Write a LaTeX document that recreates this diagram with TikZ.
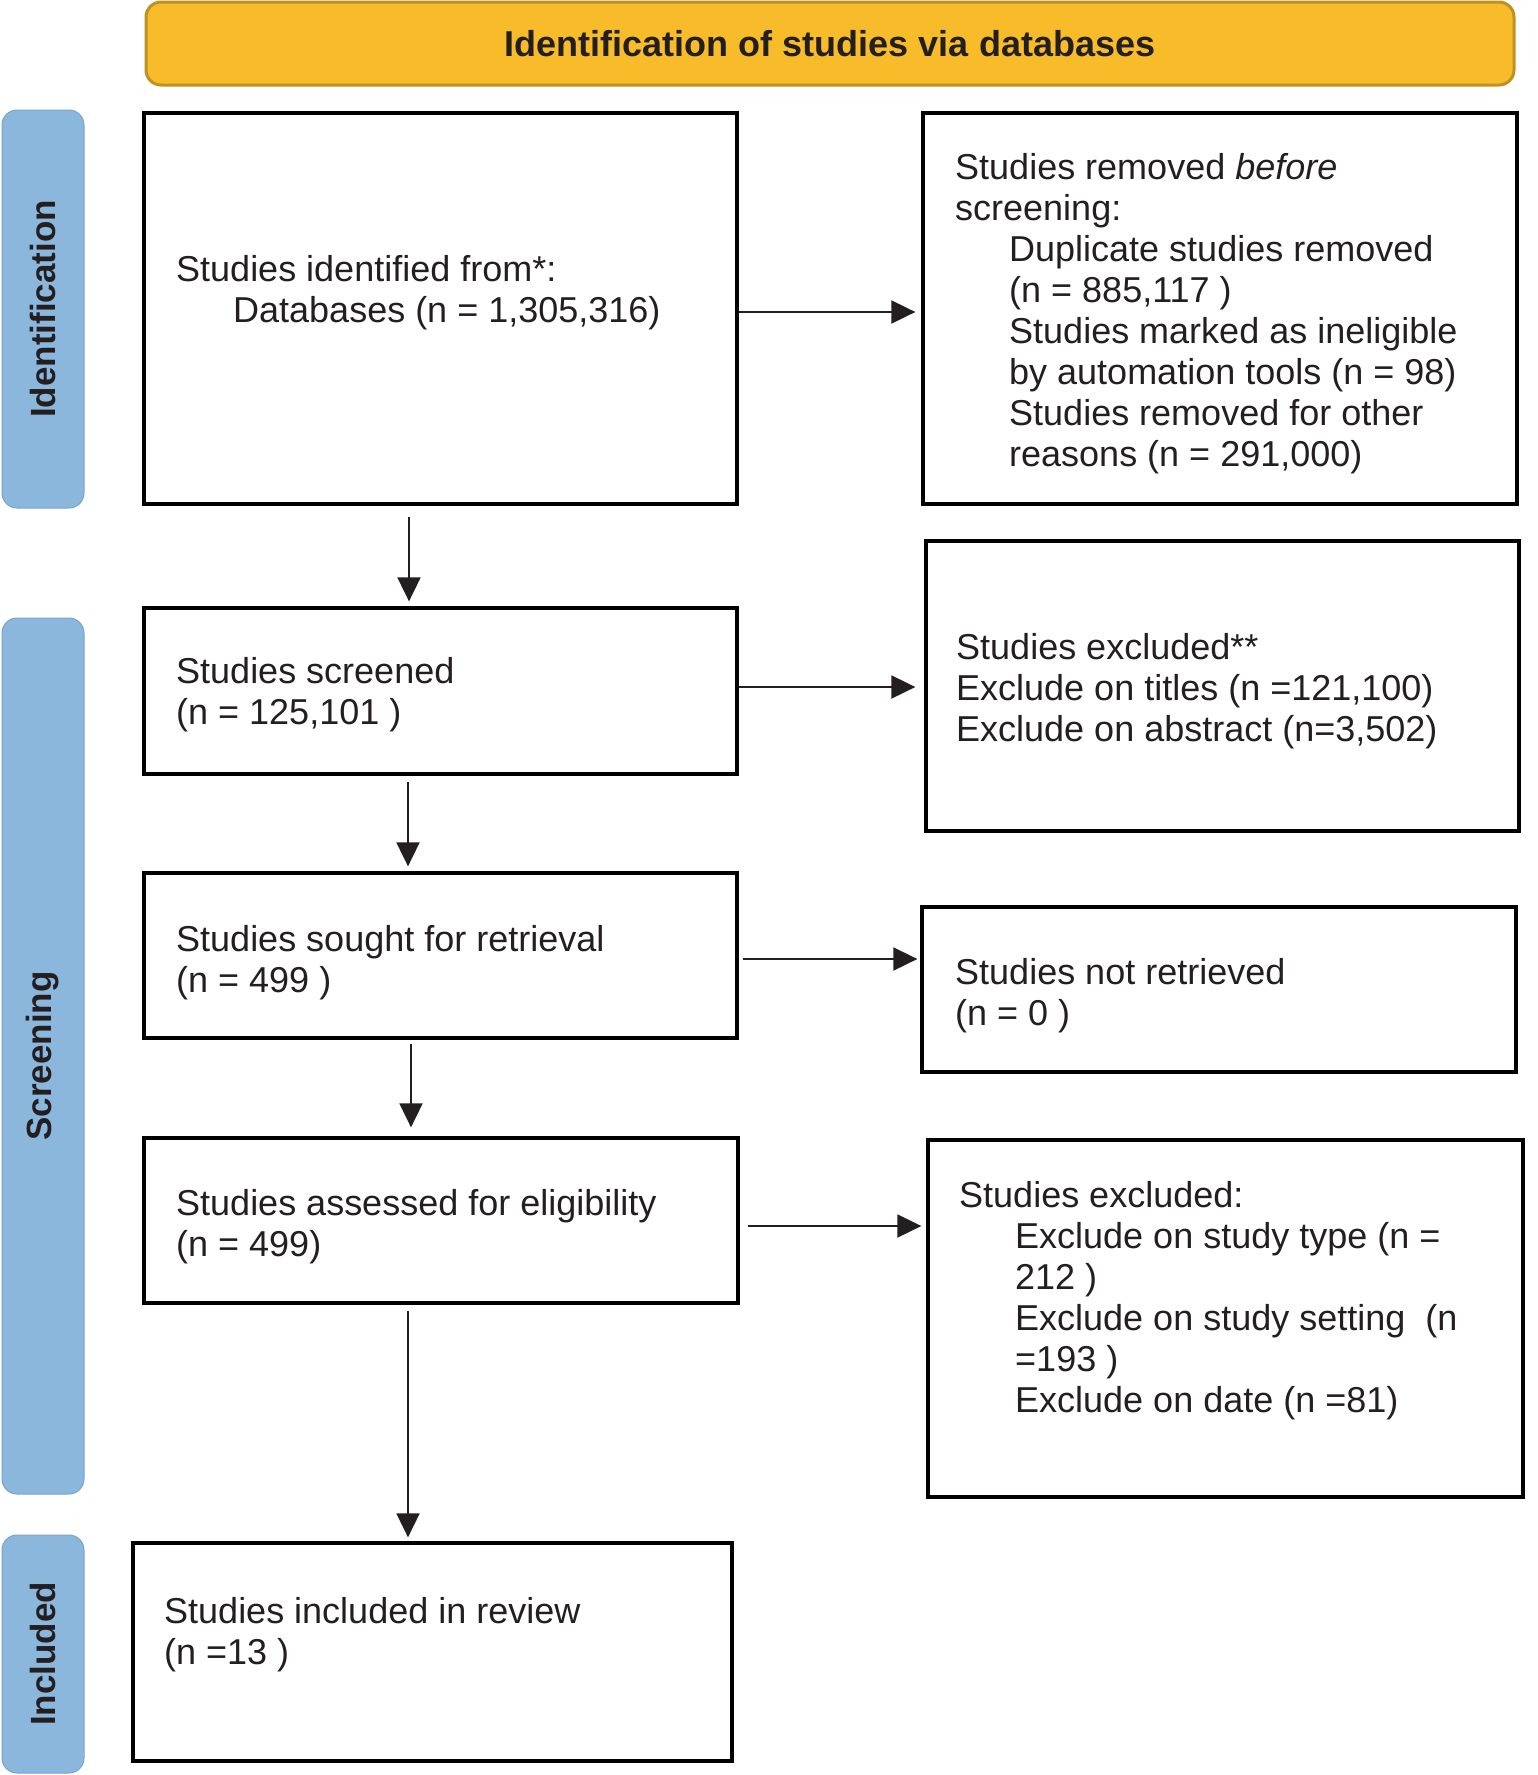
\documentclass[tikz,border=0pt]{standalone}
\usepackage{fontspec}
\setmainfont{Liberation Sans}
\usetikzlibrary{arrows.meta}
\definecolor{banfill}{RGB}{248,188,42}
\definecolor{banline}{RGB}{190,145,35}
\definecolor{sidefill}{RGB}{139,183,221}
\definecolor{sideline}{RGB}{120,165,205}
\definecolor{ink}{RGB}{35,31,32}
\begin{document}
\begin{tikzpicture}[x=1pt,y=-1pt,
  box/.style={draw=black, line width=3.3pt, inner sep=0pt},
  txt/.style={anchor=north west, inner sep=0pt, align=left, text=ink, font=\fontsize{36}{41}\selectfont},
  side/.style={draw=sideline, line width=1pt, fill=sidefill, rounded corners=15pt, inner sep=0pt, rotate=90, text=ink, font=\fontsize{35}{40}\selectfont\bfseries, minimum height=82pt},
  arr/.style={draw=ink, line width=1.9pt, -{Triangle[length=24pt,width=23pt]}}]
\useasboundingbox (0,0) rectangle (1537,1775);

% banner
\node[draw=banline, line width=3pt, fill=banfill, rounded corners=15pt, minimum width=1368pt, minimum height=83pt, inner sep=0pt, text=ink, font=\fontsize{36}{41}\selectfont\bfseries] (banner) at (830,43.5) {\raisebox{-2pt}{Identification of studies via databases}};

% side labels
\node[side, minimum width=398pt] (sident) at (43,309) {Identification};
\node[side, minimum width=876pt] (sscreen) at (43,1056) {Screening};
\node[side, minimum width=238pt] (sincl) at (43,1654) {Included};

% boxes
\node[box, minimum width=593pt, minimum height=391pt] (b1) at (440.5,308.5) {};
\node[box, minimum width=593pt, minimum height=166pt] (b2) at (440.5,691) {};
\node[box, minimum width=593pt, minimum height=165pt] (b3) at (440.5,955.5) {};
\node[box, minimum width=594pt, minimum height=165pt] (b4) at (441,1220.5) {};
\node[box, minimum width=599pt, minimum height=218pt] (b5) at (432.5,1652) {};
\node[box, minimum width=594pt, minimum height=391pt] (r1) at (1220,308.5) {};
\node[box, minimum width=593pt, minimum height=290pt] (r2) at (1222.5,686) {};
\node[box, minimum width=594pt, minimum height=165pt] (r3) at (1219,989.5) {};
\node[box, minimum width=595pt, minimum height=357pt] (r4) at (1225.5,1318.5) {};

% texts
\node[txt] (t1) at (176,255) {Studies identified from*:\\\hspace*{57pt}Databases (n = 1,305,316)};
\node[txt] (tr1) at (955,153) {Studies removed \textit{before}\\screening:\\
\hspace*{54pt}Duplicate studies removed\\
\hspace*{54pt}(n = 885,117 )\\
\hspace*{54pt}Studies marked as ineligible\\
\hspace*{54pt}by automation tools (n = 98)\\
\hspace*{54pt}Studies removed for other\\
\hspace*{54pt}reasons (n = 291,000)};
\node[txt] (t2) at (176,657) {Studies screened\\(n = 125,101 )};
\node[txt] (tr2) at (956,633) {Studies excluded**\\Exclude on titles (n =121,100)\\Exclude on abstract (n=3,502)};
\node[txt] (t3) at (176,925) {Studies sought for retrieval\\(n = 499 )};
\node[txt] (tr3) at (955,958) {Studies not retrieved\\(n = 0 )};
\node[txt] (t4) at (176,1189) {Studies assessed for eligibility\\(n = 499)};
\node[txt] (tr4) at (959,1181) {Studies excluded:\\
\hspace*{56pt}Exclude on study type (n =\\
\hspace*{56pt}212 )\\
\hspace*{56pt}Exclude on study setting\ \ (n\\
\hspace*{56pt}=193 )\\
\hspace*{56pt}Exclude on date (n =81)};
\node[txt] (t5) at (164,1597) {Studies included in review\\(n =13 )};

% horizontal arrows
\draw[arr, shorten >=6pt] ([yshift=-3.5pt]b1.east) -- ([yshift=-3.5pt]b1.east -| r1.west);
\draw[arr, shorten >=9pt] ([yshift=4pt]b2.east) -- ([yshift=4pt]b2.east -| r2.west);
\draw[arr, shorten <=4pt, shorten >=3pt] ([yshift=-3.5pt]b3.east) -- ([yshift=-3.5pt]b3.east -| r3.west);
\draw[arr, shorten <=8pt, shorten >=5pt] ([yshift=-5.5pt]b4.east) -- ([yshift=-5.5pt]b4.east -| r4.west);

% vertical arrows
\draw[arr, shorten <=11pt, shorten >=5pt] ([xshift=-31.5pt]b1.south) -- ([xshift=-31.5pt]b1.south |- b2.north);
\draw[arr, shorten <=6pt, shorten >=5pt] ([xshift=-32.5pt]b2.south) -- ([xshift=-32.5pt]b2.south |- b3.north);
\draw[arr, shorten <=4pt, shorten >=9pt] ([xshift=-29.5pt]b3.south) -- ([xshift=-29.5pt]b3.south |- b4.north);
\draw[arr, shorten <=6pt, shorten >=4pt] ([xshift=-33pt]b4.south) -- ([xshift=-33pt]b4.south |- b5.north);
\end{tikzpicture}
\end{document}
